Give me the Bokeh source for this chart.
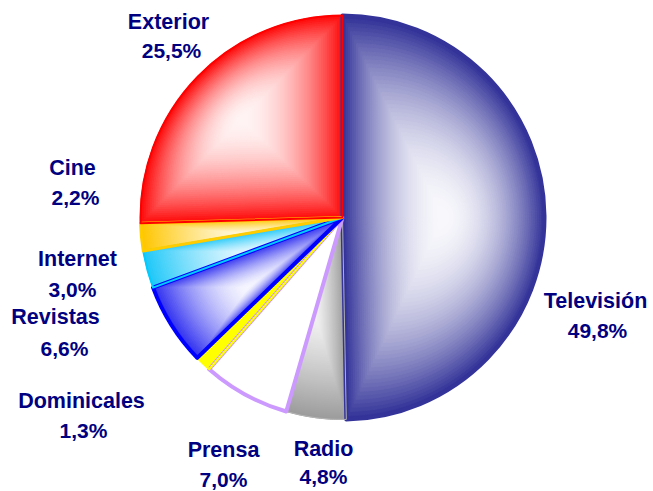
import numpy as np
from bokeh.plotting import figure
from bokeh.models import Range1d
from bokeh.embed import file_html
from bokeh.resources import INLINE
from bokeh.core.properties import value

# ---------------- data ----------------
categories = ["Televisión", "Radio", "Prensa", "Dominicales", "Revistas", "Internet", "Cine", "Exterior"]
shares = [49.8, 4.8, 7.0, 1.3, 6.6, 3.0, 2.2, 25.5]

# ---------------- styles ----------------
edge_colors = ["#333399", "#9c9c9c", "#ffffff", "#ffff00", "#3030f0", "#20c8f8", "#ffc600", "#ff0a0a"]
center_colors = ["#f8f8fc", "#f2f2f2", "#ffffff", "#ffff00", "#f6f6ff", "#e0f7ff", "#fff8e0", "#fff4f4"]
line_colors = ["#333399", "#b4b4b4", "#cc99ff", "#ffff00", "#0000ff", "#00ccff", "#ffcc00", "#ff0000"]
line_widths = [4, 1, 4, 2, 4, 2, 3, 2]
gammas = [1.9, 1.2, 1.0, 1.0, 1.6, 1.3, 1.3, 1.9]

# layout (image pixel positions of label centres)
name_x = [595, 323, 223, 81, 55, 77, 72, 168]
name_y = [300, 448, 449, 400, 316, 258, 167, 21]
pct_x = [597, 323, 223, 83, 64, 72, 75, 171]
pct_y = [330, 476, 479, 430, 348, 289, 197, 50]

W, H = 653, 491
PIE_CX, PIE_CY, PIE_R = 342, 217, 202  # image pixels
TEXT_COLOR = "#000080"
FONT = "Liberation Sans"


def to_dx(x):
    return x


def to_dy(y):
    return H - y


cx, cy = to_dx(PIE_CX), to_dy(PIE_CY)

p = figure(width=W, height=H, x_range=Range1d(0, W), y_range=Range1d(0, H),
           output_backend="svg", toolbar_location=None,
           x_axis_location=None, y_axis_location=None, min_border=0)
p.grid.visible = False
p.outline_line_color = None
p.background_fill_color = "white"
p.border_fill_color = "white"

total = float(sum(shares))
cum = np.concatenate([[0.0], np.cumsum(shares)]) / total * 360.0  # clockwise from top


def hex2rgb(h):
    h = h.lstrip("#")
    return np.array([int(h[i:i + 2], 16) for i in (0, 2, 4)], dtype=float)


def rgb2hex(c):
    c = np.clip(np.round(c), 0, 255).astype(int)
    return "#%02x%02x%02x" % tuple(c)


# gradient fills (path gradient toward the centre of each slice's bounding box)
xs_all, ys_all, cols_all = [], [], []
N = 50
for i in range(len(shares)):
    a0, a1 = cum[i], cum[i + 1]
    th = np.radians(np.linspace(a0, a1, max(8, int((a1 - a0) * 2))))
    px = np.concatenate([[cx], cx + PIE_R * np.sin(th)])
    py = np.concatenate([[cy], cy + PIE_R * np.cos(th)])
    gx = (px.min() + px.max()) / 2
    gy = (py.min() + py.max()) / 2
    ec, cc = hex2rgb(edge_colors[i]), hex2rgb(center_colors[i])
    steps = 1 if edge_colors[i] == center_colors[i] else N
    for k in range(steps):
        s = 1 - k / steps
        xs_all.append(list(gx + (px - gx) * s))
        ys_all.append(list(gy + (py - gy) * s))
        cols_all.append(rgb2hex(cc + (ec - cc) * s ** gammas[i]))

p.patches(xs=xs_all, ys=ys_all, fill_color=cols_all, line_color=cols_all, line_width=1)

# slice outlines
start = [np.radians(90 - cum[i]) for i in range(len(shares))]
end = [np.radians(90 - cum[i + 1]) for i in range(len(shares))]
p.wedge(x=[cx] * len(shares), y=[cy] * len(shares), radius=PIE_R,
        start_angle=start, end_angle=end, direction="clock",
        fill_color=None, line_color=line_colors, line_width=line_widths,
        line_join="round")

# labels
pct_labels = [("%.1f" % v).replace(".", ",") + "%" for v in shares]
p.text(x=[to_dx(v) for v in name_x], y=[to_dy(v) for v in name_y], text=categories,
       text_font=value(FONT), text_font_style="bold", text_font_size="21.5px",
       text_color=TEXT_COLOR, text_align="center", text_baseline="middle")
p.text(x=[to_dx(v) for v in pct_x], y=[to_dy(v) for v in pct_y], text=pct_labels,
       text_font=value(FONT), text_font_style="bold", text_font_size="21px",
       text_color=TEXT_COLOR, text_align="center", text_baseline="middle")

open("out.html", "w").write(file_html(p, INLINE))
